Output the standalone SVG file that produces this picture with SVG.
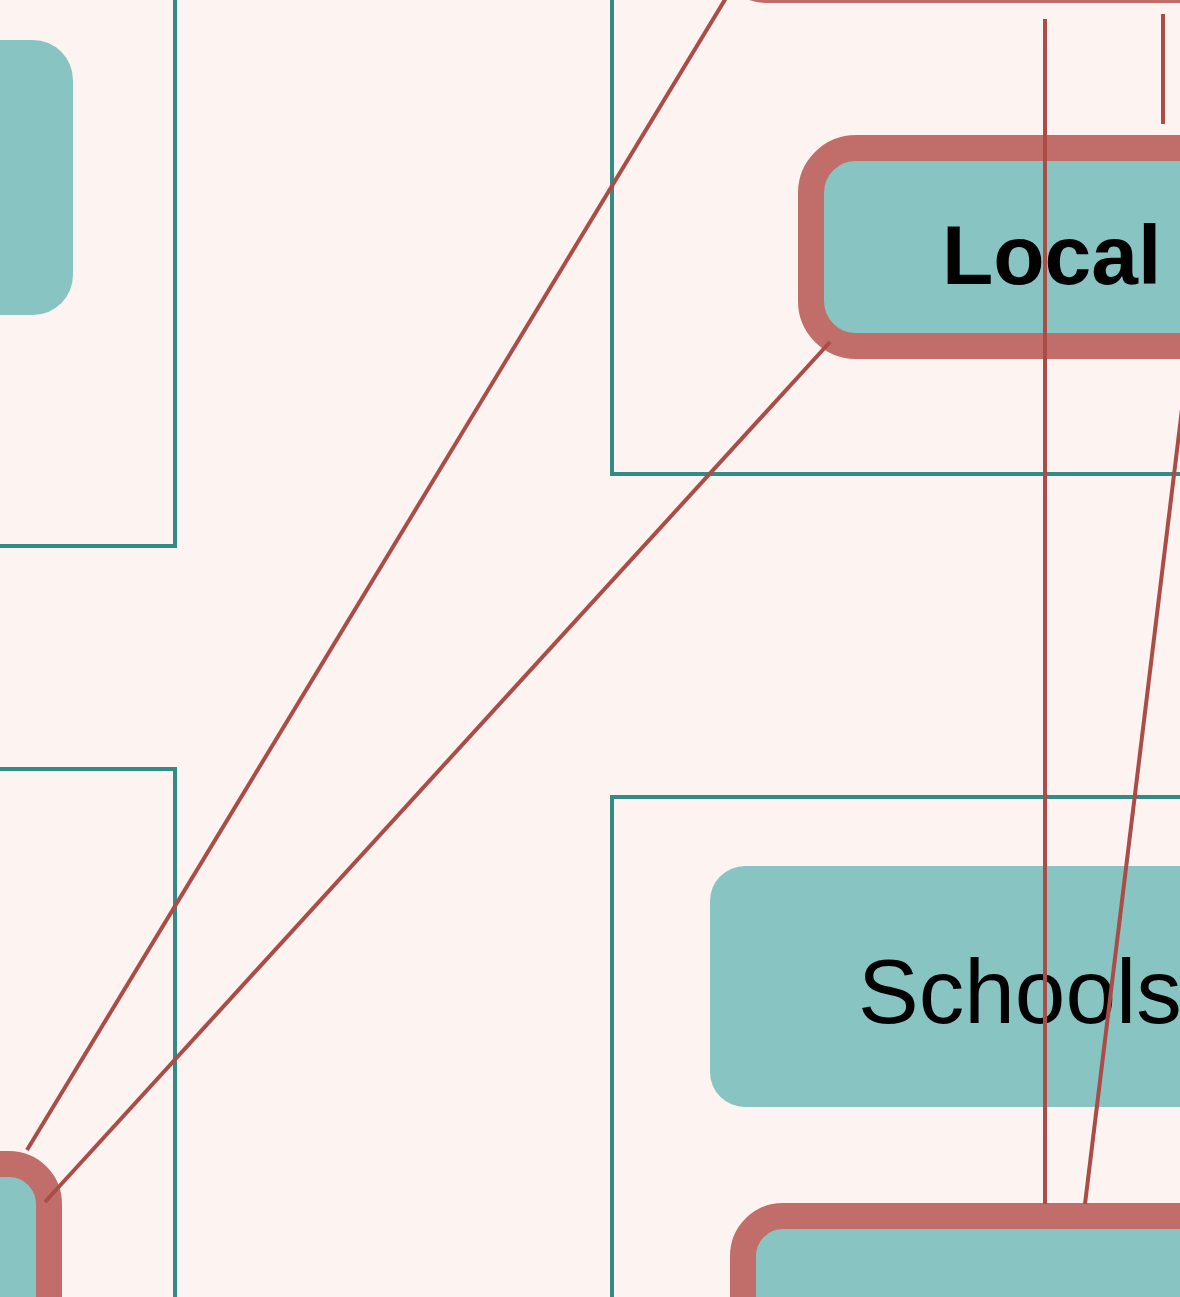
<svg xmlns="http://www.w3.org/2000/svg" width="1180" height="1297" viewBox="0 0 1180 1297">
  <style>
    .cluster { fill: none; stroke: #338b87; stroke-width: 4; }
    .node { fill: #87c4c2; }
    .hl { fill: #87c4c2; stroke: #c16e6a; stroke-width: 26; }
    .edge { fill: none; stroke: #ab4c47; stroke-width: 4; }
    .label { font-family: "Liberation Sans", Arial, sans-serif; fill: #000; }
    .bold { font-weight: bold; }
  </style>

  <rect x="0" y="0" width="1180" height="1297" fill="#fdf4f2"/>

  <!-- clusters -->
  <g id="clusters">
    <rect id="cluster-top-left" class="cluster" x="-200" y="-200" width="375" height="746"/>
    <rect id="cluster-bottom-left" class="cluster" x="-200" y="769" width="375" height="700"/>
    <rect id="cluster-top-right" class="cluster" x="612" y="-200" width="800" height="674"/>
    <rect id="cluster-bottom-right" class="cluster" x="612" y="797" width="800" height="700"/>
  </g>

  <!-- nodes -->
  <g id="node-top-left">
    <rect class="node" x="-300" y="40" width="373" height="275" rx="40" ry="40"/>
  </g>
  <g id="node-top">
    <rect class="hl" x="723" y="-240" width="700" height="230" rx="45" ry="45"/>
  </g>
  <g id="node-local">
    <rect class="hl" x="811" y="148" width="600" height="198" rx="45" ry="45"/>
    <text class="label bold" x="942" y="284" font-size="84">Local</text>
  </g>
  <g id="node-bottom-left">
    <rect class="hl" x="-400" y="1164" width="449" height="300" rx="40" ry="40"/>
  </g>
  <g id="node-schools">
    <rect class="node" x="710" y="866" width="700" height="241" rx="35" ry="35"/>
    <text class="label" x="858" y="1023" font-size="91">Schools</text>
  </g>
  <g id="node-bottom-right">
    <rect class="hl" x="743" y="1216" width="700" height="300" rx="40" ry="40"/>
  </g>

  <!-- connectors -->
  <g id="connectors">
    <line class="edge" x1="726" y1="-2" x2="27" y2="1150"/>
    <line class="edge" x1="830" y1="342" x2="45" y2="1202"/>
    <line class="edge" x1="1045" y1="19" x2="1045" y2="1204"/>
    <line class="edge" x1="1163" y1="14" x2="1163" y2="124"/>
    <line class="edge" x1="1188" y1="360" x2="1085" y2="1204"/>
  </g>
</svg>
